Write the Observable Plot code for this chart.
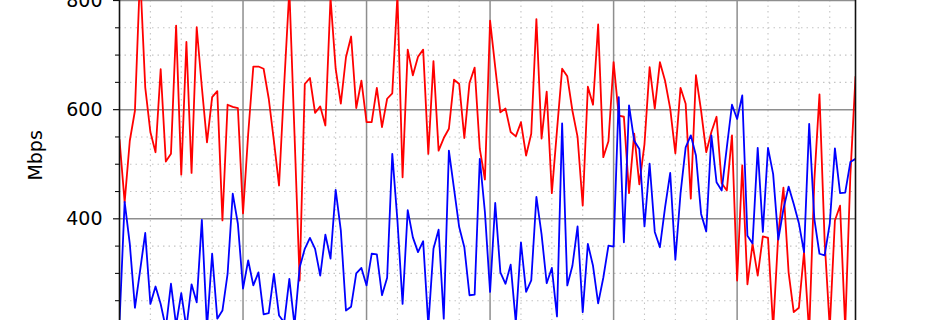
<!DOCTYPE html>
<html>
<head>
<meta charset="utf-8">
<script src="https://cdn.jsdelivr.net/npm/d3@7"></script>
<script src="https://cdn.jsdelivr.net/npm/@observablehq/plot@0.6"></script>
<style>
  html, body { margin: 0; padding: 0; background: #fff; }
  #chart svg { display: block; }
</style>
</head>
<body>
<div id="chart"></div>
<script>
// Hourly throughput (Mbps), 144 hourly samples
const redSeries = [
  545, 430, 543, 598, 850, 641, 559, 522, 674, 505, 519, 754, 481, 724, 484, 751, 641, 540, 623, 634, 397, 609, 605, 603,
  410, 555, 679, 679, 675, 620, 543, 461, 647, 820, 556, 287, 647, 658, 594, 606, 571, 805, 675, 611, 696, 734, 603, 653,
  577, 577, 640, 568, 620, 630, 810, 476, 710, 663, 697, 710, 519, 689, 525, 548, 565, 655, 647, 548, 649, 677, 528, 472,
  763, 678, 595, 602, 559, 551, 577, 516, 556, 766, 547, 633, 447, 562, 675, 661, 598, 550, 424, 642, 609, 756, 513, 542,
  687, 589, 587, 447, 556, 463, 537, 678, 602, 687, 653, 602, 520, 640, 611, 437, 663, 598, 522, 559, 587, 465, 452, 553,
  287, 498, 280, 354, 296, 368, 365, 200, 372, 457, 302, 229, 237, 339, 190, 470, 628, 360, 200, 397, 424, 200, 480, 660
];
const blueSeries = [
  210, 431, 354, 237, 305, 374, 244, 276, 244, 200, 281, 205, 264, 200, 280, 247, 398, 200, 336, 217, 232, 299, 446, 391,
  272, 324, 278, 302, 225, 227, 299, 223, 210, 290, 205, 311, 345, 365, 345, 296, 371, 327, 453, 379, 232, 239, 300, 310,
  278, 336, 335, 260, 292, 519, 397, 244, 416, 366, 339, 359, 205, 345, 380, 217, 525, 455, 385, 348, 260, 261, 510, 412,
  266, 429, 302, 281, 316, 210, 357, 266, 287, 440, 372, 282, 310, 221, 575, 278, 314, 386, 229, 354, 314, 245, 292, 351,
  349, 623, 357, 608, 543, 528, 386, 501, 376, 348, 421, 484, 325, 446, 531, 553, 516, 409, 377, 553, 467, 452, 531, 609,
  583, 626, 369, 355, 530, 376, 530, 482, 362, 418, 459, 427, 392, 339, 574, 400, 336, 333, 391, 529, 447, 448, 504, 510
];
const yMajorTicks = [400, 600, 800];
const yMinorTicks = [250, 300, 350, 450, 500, 550, 650, 700, 750];
const xMajorTicks = [24, 48, 72, 96, 120];
const xMinorTicks = [6, 12, 18, 30, 36, 42, 54, 60, 66, 78, 84, 90, 102, 108, 114, 126, 132, 138];
const yLabel = "Mbps";

const minorGrid = {stroke: "#c4c4c4", strokeOpacity: 1, strokeWidth: 1.1, strokeDasharray: "1.5,4"};
const majorGrid = {stroke: "#8e8e8e", strokeOpacity: 1, strokeWidth: 1.5};

const chart = Plot.plot({
  width: 950,
  height: 320,
  marginLeft: 119,
  marginRight: 95,
  marginTop: 0,
  marginBottom: 0,
  style: {fontFamily: "DejaVu Sans, sans-serif", fontSize: "19px", background: "#fff", color: "#000"},
  x: {domain: [0, 143], axis: null},
  y: {domain: [213.7, 800], axis: null},
  marks: [
    Plot.gridY(yMinorTicks, minorGrid),
    Plot.gridX(xMinorTicks, minorGrid),
    Plot.gridY(yMajorTicks, majorGrid),
    Plot.gridX(xMajorTicks, majorGrid),
    Plot.lineY(redSeries, {stroke: "#ff0000", strokeWidth: 1.8, clip: true}),
    Plot.lineY(blueSeries, {stroke: "#0000ff", strokeWidth: 1.8, clip: true}),
    Plot.ruleX([0, 143], {stroke: "#111", strokeWidth: 1.6}),
    Plot.axisY(yMajorTicks, {tickSize: 6, tickPadding: 11, stroke: "#111", strokeWidth: 1.2, fill: "#000", fontSize: 19, label: null}),
    Plot.axisY(yMinorTicks, {tickSize: 4, text: null, stroke: "#111", strokeWidth: 1.1, label: null}),
    Plot.text([yLabel], {frameAnchor: "left", y: () => 470, dx: -78, rotate: -90, lineAnchor: "bottom", text: d => d, fontSize: 19, fill: "#000"})
  ]
});
document.getElementById("chart").appendChild(chart);
</script>
</body>
</html>
